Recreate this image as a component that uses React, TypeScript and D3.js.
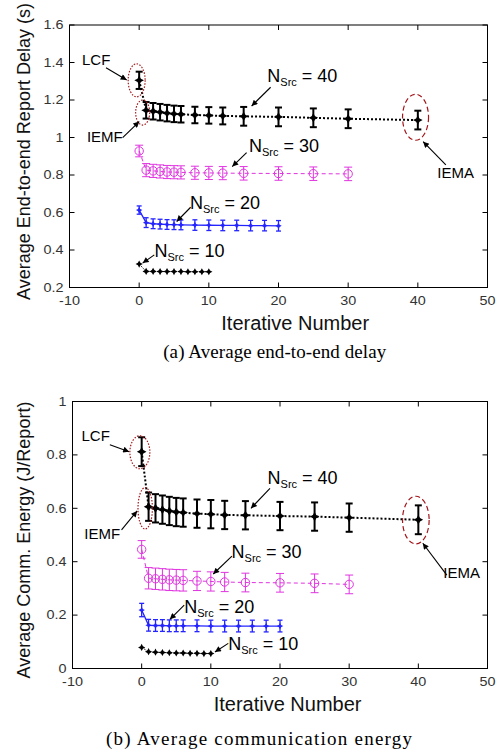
import React from "react";
import * as d3 from "d3";

// iteration numbers for each curve
const iter40 = [0, 1, 2, 3, 4, 5, 6, 8, 10, 12, 15, 20, 25, 30, 40];
const iter30 = [0, 1, 2, 3, 4, 5, 6, 8, 10, 12, 15, 20, 25, 30];
const iter20 = [0, 1, 2, 3, 4, 5, 6, 8, 10, 12, 14, 16, 18, 20];
const iter10 = [0, 1, 2, 3, 4, 5, 6, 7, 8, 9, 10];

// (a) average end-to-end delay (s)
const delay40 = [1.305, 1.145, 1.14, 1.135, 1.13, 1.126, 1.124, 1.12, 1.118, 1.115, 1.113, 1.11, 1.105, 1.1, 1.093];
const delayErr40 = [0.046, 0.044, 0.044, 0.044, 0.044, 0.044, 0.044, 0.044, 0.044, 0.045, 0.05, 0.05, 0.05, 0.05, 0.05];
const delay30 = [0.928, 0.826, 0.822, 0.819, 0.816, 0.815, 0.814, 0.812, 0.811, 0.81, 0.809, 0.808, 0.807, 0.806];
const delayErr30 = [0.031, 0.035, 0.035, 0.035, 0.035, 0.035, 0.035, 0.035, 0.035, 0.035, 0.036, 0.036, 0.036, 0.036];
const delay20 = [0.613, 0.546, 0.54, 0.538, 0.536, 0.535, 0.534, 0.533, 0.532, 0.531, 0.531, 0.53, 0.53, 0.529];
const delayErr20 = [0.022, 0.026, 0.026, 0.026, 0.026, 0.026, 0.026, 0.028, 0.028, 0.028, 0.028, 0.028, 0.028, 0.028];
const delay10 = [0.325, 0.286, 0.286, 0.285, 0.285, 0.285, 0.285, 0.284, 0.284, 0.284, 0.284];

// (b) average communication energy (J/Report)
const energy40 = [0.812, 0.606, 0.6, 0.595, 0.59, 0.586, 0.584, 0.58, 0.578, 0.575, 0.574, 0.571, 0.569, 0.565, 0.557];
const energyErr40 = [0.054, 0.053, 0.053, 0.053, 0.053, 0.053, 0.053, 0.053, 0.053, 0.053, 0.053, 0.053, 0.053, 0.053, 0.054];
const energy30 = [0.446, 0.338, 0.336, 0.334, 0.332, 0.331, 0.33, 0.328, 0.326, 0.324, 0.322, 0.321, 0.319, 0.315];
const energyErr30 = [0.033, 0.04, 0.04, 0.04, 0.04, 0.04, 0.04, 0.036, 0.036, 0.036, 0.035, 0.035, 0.035, 0.035];
const energy20 = [0.219, 0.162, 0.161, 0.161, 0.16, 0.16, 0.16, 0.16, 0.159, 0.159, 0.159, 0.159, 0.159, 0.159];
const energyErr20 = [0.025, 0.022, 0.022, 0.022, 0.022, 0.022, 0.022, 0.022, 0.022, 0.022, 0.022, 0.022, 0.022, 0.022];
const energy10 = [0.079, 0.063, 0.061, 0.06, 0.059, 0.058, 0.058, 0.057, 0.057, 0.056, 0.056];

const xTicks = [-10, 0, 10, 20, 30, 40, 50];
const delayTicks = [0.2, 0.4, 0.6, 0.8, 1, 1.2, 1.4, 1.6];
const energyTicks = [0, 0.2, 0.4, 0.6, 0.8, 1];

// annotations, in data units
const delayNotes = [
  { t: "LCF", x: -8.2, y: 1.387 },
  { t: "IEMF", x: -7.5, y: 0.978 },
  { t: "IEMA", x: 42.8, y: 0.783 },
];
const delayNsrc = [
  { n: "40", x: 18.4, y: 1.298 },
  { n: "30", x: 15.75, y: 0.925 },
  { n: "20", x: 7.3, y: 0.618 },
  { n: "10", x: 2.2, y: 0.362 },
];
const delayArrows = [
  [-4.76, 1.372, -1.79, 1.307],
  [-2.37, 0.999, 0.01, 1.085],
  [18.87, 1.268, 16.14, 1.168],
  [44.02, 0.854, 40.76, 0.978],
  [15.42, 0.919, 13.36, 0.845],
  [7.39, 0.628, 5.38, 0.552],
  [2.17, 0.374, 0.5, 0.33],
];
const delayRings = [
  { x: -0.36, y: 1.305, rx: 8.5, ry: 16.5, dash: "1.5 1.5" },
  { x: 0.5, y: 1.133, rx: 7, ry: 12.5, dash: "1.5 1.5" },
  { x: 39.67, y: 1.108, rx: 13, ry: 23, dash: "5 3" },
];

const energyNotes = [
  { t: "LCF", x: -8.7, y: 0.853 },
  { t: "IEMF", x: -8.3, y: 0.484 },
  { t: "IEMA", x: 43.6, y: 0.338 },
];
const energyNsrc = [
  { n: "40", x: 18.2, y: 0.69 },
  { n: "30", x: 13.0, y: 0.413 },
  { n: "20", x: 6.15, y: 0.206 },
  { n: "10", x: 12.5, y: 0.069 },
];
const energyArrows = [
  [-4.6, 0.838, -1.81, 0.812],
  [-2.91, 0.519, -0.65, 0.59],
  [18.55, 0.675, 15.8, 0.6],
  [44.12, 0.35, 40.65, 0.469],
  [13.05, 0.421, 10.35, 0.354],
  [6.15, 0.237, 4.08, 0.184],
  [12.52, 0.094, 10.59, 0.062],
];
const energyRings = [
  { x: -0.26, y: 0.81, rx: 10, ry: 16.5, dash: "1.5 1.5" },
  { x: 0.51, y: 0.6, rx: 7.2, ry: 20.7, dash: "1.5 1.5" },
  { x: 39.64, y: 0.556, rx: 13.3, ry: 23.8, dash: "5 3" },
];

const MAGENTA = "#e034e0";
const BLUE = "#2424ff";
const RING = "#a3161a";

function star(r: number, k = 0.35) {
  const p = [
    [0, -r], [r * k, -r * k], [r, 0], [r * k, r * k],
    [0, r], [-r * k, r * k], [-r, 0], [-r * k, -r * k],
  ];
  return "M" + p.map((d) => d.join(",")).join("L") + "Z";
}

function Curve({ x, y, xs, ys, err, color, dash, lw, marker, capW, barW }: any) {
  const line = d3.line<number>().x((d, i) => x(xs[i])).y((d) => y(d));
  return (
    <g>
      <path d={line(ys) || ""} fill="none" stroke={color} strokeWidth={lw} strokeDasharray={dash} />
      {err &&
        ys.map((v: number, i: number) => {
          const cx = x(xs[i]);
          const y1 = y(v - err[i]);
          const y2 = y(v + err[i]);
          return (
            <g key={"e" + i} stroke={color} strokeWidth={barW}>
              <line x1={cx} x2={cx} y1={y1} y2={y2} />
              <line x1={cx - capW / 2} x2={cx + capW / 2} y1={y1} y2={y1} />
              <line x1={cx - capW / 2} x2={cx + capW / 2} y1={y2} y2={y2} />
            </g>
          );
        })}
      {ys.map((v: number, i: number) =>
        marker === "circle" ? (
          <circle key={"m" + i} cx={x(xs[i])} cy={y(v)} r={4.2} fill="none" stroke={color} strokeWidth={1} />
        ) : (
          <path key={"m" + i} d={star(marker)} transform={`translate(${x(xs[i])},${y(v)})`} fill={color} />
        )
      )}
    </g>
  );
}

function Panel({ box, yDomain, yTicks, yLabel, yLabelMid, xLabelX, caption, capX, capY, capLen, curves, notes, nsrc, arrows, rings }: any) {
  const x = d3.scaleLinear().domain([-10, 50]).range([box.left, box.right]);
  const y = d3.scaleLinear().domain(yDomain).range([box.bottom, box.top]);
  const tick = 5;
  return (
    <g fontFamily="'Liberation Sans', Arial, sans-serif">
      {/* curves */}
      {curves.map((c: any, i: number) => (
        <Curve key={i} x={x} y={y} {...c} />
      ))}
      {/* frame and inward ticks */}
      <rect x={box.left} y={box.top} width={box.right - box.left} height={box.bottom - box.top} fill="none" stroke="#000" strokeWidth={1} />
      {xTicks.map((t) => (
        <g key={"xt" + t} stroke="#000">
          <line x1={x(t)} x2={x(t)} y1={box.bottom} y2={box.bottom - tick} />
          <line x1={x(t)} x2={x(t)} y1={box.top} y2={box.top + tick} />
        </g>
      ))}
      {yTicks.map((t: number) => (
        <g key={"yt" + t} stroke="#000">
          <line x1={box.left} x2={box.left + tick} y1={y(t)} y2={y(t)} />
          <line x1={box.right} x2={box.right - tick} y1={y(t)} y2={y(t)} />
        </g>
      ))}
      {xTicks.map((t) => (
        <text key={"xl" + t} transform={`translate(${x(t)},${box.bottom + 17.5}) scale(1.2,1)`} textAnchor="middle" fontSize={12} fill="#333">
          {t}
        </text>
      ))}
      {yTicks.map((t: number) => (
        <text key={"yl" + t} transform={`translate(${box.left - 6},${y(t) + 4.3}) scale(1.2,1)`} textAnchor="end" fontSize={12} fill="#333">
          {+t.toFixed(1)}
        </text>
      ))}
      <text x={x(xLabelX)} y={box.bottom + 42} textAnchor="middle" fontSize={20} fill="#111">
        Iterative Number
      </text>
      <text transform={`translate(29.5,${yLabelMid}) rotate(-90)`} textAnchor="middle" fontSize={18} fill="#111">
        {yLabel}
      </text>
      {/* annotations */}
      {rings.map((r: any, i: number) => (
        <ellipse key={"r" + i} cx={x(r.x)} cy={y(r.y)} rx={r.rx} ry={r.ry} fill="none" stroke={RING} strokeWidth={1.2} strokeDasharray={r.dash} />
      ))}
      {arrows.map((a: number[], i: number) => (
        <line key={"a" + i} x1={x(a[0])} y1={y(a[1])} x2={x(a[2])} y2={y(a[3])} stroke="#000" strokeWidth={1.1} markerEnd="url(#ah)" />
      ))}
      {notes.map((n: any) => (
        <text key={n.t} x={x(n.x)} y={y(n.y)} fontSize={15} fill="#000">
          {n.t}
        </text>
      ))}
      {nsrc.map((n: any) => (
        <text key={n.n} x={x(n.x)} y={y(n.y)} fontSize={18} fill="#000">
          N
          <tspan fontSize={11} dy={4}>Src</tspan>
          <tspan dy={-4}>{" = " + n.n}</tspan>
        </text>
      ))}
      <text x={capX} y={capY} textAnchor="middle" fontFamily="'Liberation Serif', 'Times New Roman', serif" fontSize={19} fill="#000" textLength={capLen} lengthAdjust="spacing">
        {caption}
      </text>
    </g>
  );
}

export default function App() {
  const delayCurves = [
    { xs: iter10, ys: delay10, color: "#000", dash: "1.5 1.5", lw: 1, marker: 3.6 },
    { xs: iter20, ys: delay20, err: delayErr20, color: BLUE, lw: 1.3, marker: 3.2, capW: 5, barW: 1.3 },
    { xs: iter30, ys: delay30, err: delayErr30, color: MAGENTA, dash: "4 3", lw: 1, marker: "circle", capW: 8, barW: 1 },
    { xs: iter40, ys: delay40, err: delayErr40, color: "#000", dash: "2 2", lw: 2, marker: 4.8, capW: 7, barW: 2 },
  ];
  const energyCurves = [
    { xs: iter10, ys: energy10, color: "#000", dash: "1.5 1.5", lw: 1, marker: 3.6 },
    { xs: iter20, ys: energy20, err: energyErr20, color: BLUE, lw: 1.3, marker: 3.2, capW: 5, barW: 1.3 },
    { xs: iter30, ys: energy30, err: energyErr30, color: MAGENTA, dash: "4 3", lw: 1, marker: "circle", capW: 8, barW: 1 },
    { xs: iter40, ys: energy40, err: energyErr40, color: "#000", dash: "2 2", lw: 2, marker: 4.8, capW: 7, barW: 2 },
  ];
  return (
    <svg width={498} height={754} style={{ position: "absolute", left: 0, top: 0, background: "#fff" }}>
      <defs>
        <marker id="ah" viewBox="0 0 10 10" refX="10" refY="5" markerWidth="9" markerHeight="6" orient="auto" markerUnits="userSpaceOnUse">
          <path d="M0,0L10,5L0,10Z" fill="#000" />
        </marker>
      </defs>
      <Panel
        box={{ left: 69.5, right: 487.5, top: 25, bottom: 287.5 }}
        yDomain={[0.2, 1.6]}
        yTicks={delayTicks}
        yLabel="Average End-to-end Report Delay (s)"
        yLabelMid={151.5}
        xLabelX={22.4}
        caption="(a)  Average end-to-end delay"
        capX={274.7}
        capY={357.7}
        capLen={223}
        curves={delayCurves}
        notes={delayNotes}
        nsrc={delayNsrc}
        arrows={delayArrows}
        rings={delayRings}
      />
      <Panel
        box={{ left: 72.5, right: 487.5, top: 401.5, bottom: 668.5 }}
        yDomain={[0, 1]}
        yTicks={energyTicks}
        yLabel="Average Comm. Energy (J/Report)"
        yLabelMid={540}
        xLabelX={21.1}
        caption="(b)  Average communication energy"
        capX={259}
        capY={745}
        capLen={306}
        curves={energyCurves}
        notes={energyNotes}
        nsrc={energyNsrc}
        arrows={energyArrows}
        rings={energyRings}
      />
    </svg>
  );
}
